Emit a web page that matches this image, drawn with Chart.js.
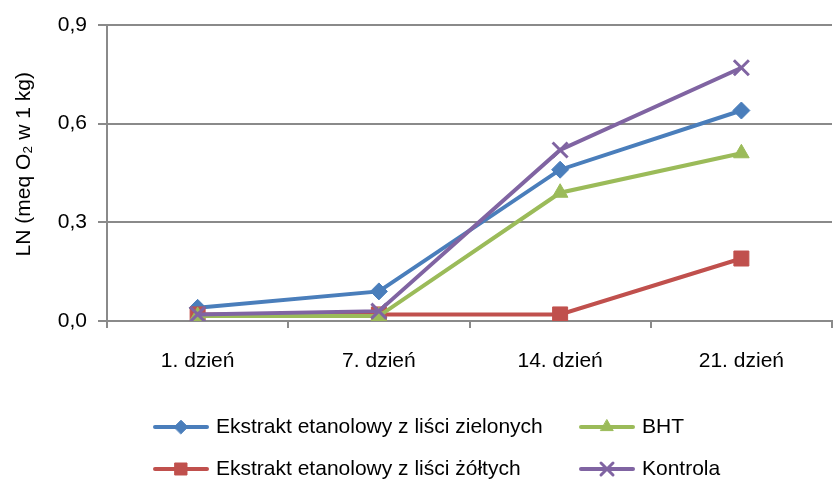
<!DOCTYPE html>
<html>
<head>
<meta charset="utf-8">
<script src="https://cdn.jsdelivr.net/npm/chart.js@4/dist/chart.umd.min.js"></script>
<style>
  html, body { margin: 0; padding: 0; background: #fff; }
  #wrap { width: 834px; height: 480px; }
</style>
</head>
<body>
<div id="wrap"><canvas id="c" width="834" height="480"></canvas></div>
<script>
// Days of storage
const categories = ['1. dzień', '7. dzień', '14. dzień', '21. dzień'];

// LN values (meq O2 / 1 kg)
const zieloneValues  = [0.04, 0.09, 0.46, 0.64];
const zolteValues    = [0.02, 0.02, 0.02, 0.19];
const bhtValues      = [0.015, 0.015, 0.39, 0.51];
const kontrolaValues = [0.02, 0.03, 0.52, 0.77];

const seriesNames = [
  'Ekstrakt etanolowy z liści zielonych',
  'Ekstrakt etanolowy z liści żółtych',
  'BHT',
  'Kontrola'
];

const yTicks = [0, 0.3, 0.6, 0.9];

const FONT = "'Liberation Sans', Arial, sans-serif";
const GRID = '#8a8a8a';

function series(label, data, color, style, radius, order, bw) {
  return {
    label, data,
    borderColor: color,
    backgroundColor: color,
    borderWidth: 4,
    pointStyle: style,
    pointRadius: radius,
    pointHoverRadius: radius,
    pointBackgroundColor: color,
    pointBorderColor: color,
    pointBorderWidth: bw,
    tension: 0,
    order
  };
}

// Two-column legend below the plot
const legendSlots = [
  { x: 153, y: 427 },
  { x: 153, y: 469 },
  { x: 579, y: 427 },
  { x: 579, y: 469 }
];

const gridLegend = {
  id: 'gridLegend',
  afterDraw(chart) {
    const ctx = chart.ctx;
    chart.data.datasets.forEach((ds, i) => {
      const s = legendSlots[i];
      ctx.save();
      ctx.strokeStyle = ds.borderColor;
      ctx.lineWidth = 4;
      ctx.lineCap = 'round';
      ctx.beginPath();
      ctx.moveTo(s.x + 2, s.y);
      ctx.lineTo(s.x + 54, s.y);
      ctx.stroke();
      ctx.fillStyle = ds.backgroundColor;
      ctx.strokeStyle = ds.borderColor;
      ctx.lineWidth = ds.pointBorderWidth;
      Chart.helpers.drawPoint(ctx, {
        pointStyle: ds.pointStyle,
        radius: ds.pointRadius * 0.8,
        rotation: 0,
        borderWidth: ds.pointBorderWidth
      }, s.x + 28, s.y);
      ctx.fillStyle = '#000';
      ctx.font = '21px ' + FONT;
      ctx.textBaseline = 'middle';
      ctx.textAlign = 'left';
      ctx.fillText(ds.label, s.x + 63, s.y);
      ctx.restore();
    });
  }
};

new Chart(document.getElementById('c'), {
  type: 'line',
  data: {
    labels: categories,
    datasets: [
      series(seriesNames[0], zieloneValues, '#4a7ebb', 'rectRot', 8.5, 4, 1),
      series(seriesNames[1], zolteValues, '#c0504d', 'rect', 10.6, 3, 1),
      series(seriesNames[2], bhtValues, '#9bbb59', 'triangle', 9, 2, 1),
      series(seriesNames[3], kontrolaValues, '#8064a2', 'crossRot', 10.6, 1, 3)
    ]
  },
  options: {
    responsive: false,
    animation: false,
    devicePixelRatio: 1,
    layout: { autoPadding: false, padding: { top: 25, right: 2, bottom: 0, left: 0 } },
    plugins: {
      legend: { display: false },
      tooltip: { enabled: false }
    },
    scales: {
      x: {
        offset: true,
        grid: {
          offset: true,
          drawOnChartArea: false,
          drawTicks: true,
          tickLength: 7,
          color: GRID,
          lineWidth: 2
        },
        border: { display: true, color: GRID, width: 2 },
        ticks: {
          color: '#000',
          font: { family: FONT, size: 21 },
          padding: 21,
          maxRotation: 0
        },
        afterFit(scale) { scale.height = 159; }
      },
      y: {
        min: 0,
        max: 0.9,
        afterBuildTicks(scale) { scale.ticks = yTicks.map(v => ({ value: v })); },
        grid: {
          color: GRID,
          lineWidth: 2,
          drawTicks: true,
          tickLength: 9
        },
        border: { display: true, color: GRID, width: 2 },
        ticks: {
          color: '#000',
          font: { family: FONT, size: 21 },
          padding: 11,
          callback: v => v.toFixed(1).replace('.', ',')
        },
        title: {
          display: true,
          text: '   LN (meq O₂ w 1 kg)',
          color: '#000',
          font: { family: FONT, size: 21 },
          padding: { top: 12, bottom: 0 }
        },
        afterFit(scale) { scale.width = 107; }
      }
    }
  },
  plugins: [gridLegend]
});
</script>
</body>
</html>
